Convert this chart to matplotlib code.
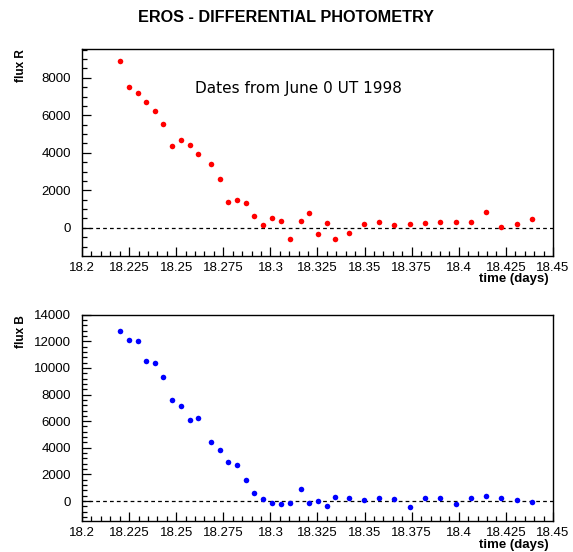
import numpy as np
import matplotlib
matplotlib.use("Agg")
import matplotlib.pyplot as plt
from matplotlib.ticker import MultipleLocator, FuncFormatter

# ==============================
# Data (time in days from June 0 UT 1998)
# ==============================

time_days = [
    18.2203, 18.2250, 18.2296, 18.2340, 18.2386, 18.2432, 18.2478, 18.2524,
    18.2572, 18.2616, 18.2685, 18.2731, 18.2777, 18.2823, 18.2869, 18.2915,
    18.2962, 18.3008, 18.3055, 18.3102, 18.3162, 18.3205, 18.3253, 18.3299,
    18.3345, 18.3416, 18.3495, 18.3575, 18.3658, 18.3739, 18.3821, 18.3902,
    18.3984, 18.4065, 18.4146, 18.4226, 18.4307, 18.4389,
]

flux_r = [
    8907, 7488, 7168, 6688, 6240, 5515, 4341, 4661,
    4427, 3915, 3381, 2581, 1371, 1493, 1301, 640,
    160, 517, 341, -587, 373, 768, -352, 251,
    -603, -267, 197, 304, 128, 213, 267, 288,
    304, 304, 837, 21, 197, 480,
]

flux_b = [
    12795, 12096, 11998, 10518, 10345, 9294, 7588, 7160,
    6086, 6236, 4410, 3809, 2930, 2727, 1578, 578,
    173, -150, -250, -175, 879, -150, 25, -350,
    275, 200, 100, 250, 125, -450, 250, 250,
    -200, 225, 350, 200, 100, -100,
]

x_range = (18.2, 18.45)
ylim_r = (-1480, 9520)
ylim_b = (-1500, 14000)

# ==============================
# Figure
# ==============================

plt.rcParams["font.family"] = ["Liberation Sans", "DejaVu Sans"]

fig = plt.figure(figsize=(5.73, 5.52), dpi=100)
ax_r = fig.add_axes([0.1431, 0.5371, 0.822, 0.3736])
ax_b = fig.add_axes([0.1431, 0.0562, 0.822, 0.3737])


def style_axis(ax, ylim, ystep, yminor, ylabel):
    ax.set_xlim(*x_range)
    ax.set_ylim(*ylim)
    ax.axhline(0, color="black", linestyle=(0, (3, 2.5)), linewidth=0.9, zorder=1)
    ax.xaxis.set_major_locator(MultipleLocator(0.025))
    ax.xaxis.set_minor_locator(MultipleLocator(0.005))
    ax.xaxis.set_major_formatter(FuncFormatter(lambda v, p: "%g" % round(v, 4)))
    ax.yaxis.set_major_locator(MultipleLocator(ystep))
    ax.yaxis.set_minor_locator(MultipleLocator(yminor))
    ax.tick_params(which="both", direction="in", top=False, right=False,
                   labelsize=9.5, width=0.9)
    ax.tick_params(axis="x", which="major", length=6.5, pad=4.5)
    ax.tick_params(axis="y", which="major", length=6.5, pad=8)
    ax.tick_params(which="minor", length=3.4)
    for sp in ax.spines.values():
        sp.set_linewidth(1.0)
    ax.text(-0.13, 1.0, ylabel, transform=ax.transAxes, rotation=90,
            ha="center", va="top", fontsize=8.5, fontweight="bold")
    ax.text(0.99, -0.085, "time (days)", transform=ax.transAxes,
            ha="right", va="top", fontsize=9.5, fontweight="bold")


style_axis(ax_r, ylim_r, 2000, 500, "flux R")
style_axis(ax_b, ylim_b, 2000, 400, "flux B")

ax_r.plot(time_days, flux_r, "o", color="#ff0000", markersize=4,
          markeredgewidth=0, zorder=3)
ax_b.plot(time_days, flux_b, "o", color="#0000ff", markersize=4,
          markeredgewidth=0, zorder=3)

ax_r.text(0.4586, 0.808, "Dates from June 0 UT 1998", transform=ax_r.transAxes,
          ha="center", va="center", fontsize=11, family="DejaVu Sans")

fig.text(0.5, 0.968, "EROS - DIFFERENTIAL PHOTOMETRY", ha="center", va="center",
         fontsize=11.7, fontweight="bold")

fig.savefig("out.png", dpi=100)
plt.close(fig)
